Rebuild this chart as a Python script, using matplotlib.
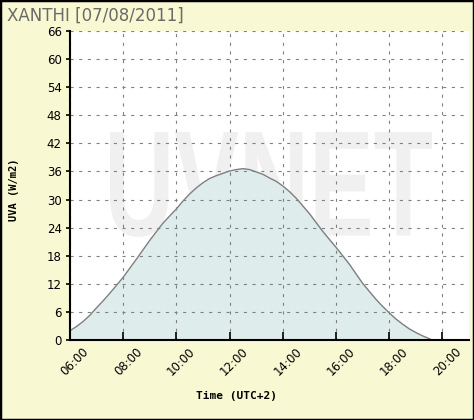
import matplotlib
matplotlib.use("Agg")
import matplotlib.pyplot as plt
import matplotlib.transforms as mtransforms
from matplotlib.textpath import TextPath
from matplotlib.patches import PathPatch, Rectangle
from matplotlib.font_manager import FontProperties

# Data (hours in UTC+2, UVA W/m2)
hours = [6.0, 6.25, 6.5, 6.75, 7.0, 7.25, 7.5, 7.75, 8.0, 8.5, 9.0, 9.5, 10.0, 10.25,
         10.5, 10.75, 11.0, 11.25, 11.5, 11.75, 12.0, 12.25, 12.5, 12.75, 13.0, 13.25,
         13.5, 13.75, 14.0, 14.25, 14.5, 15.0, 15.5, 16.0, 16.5, 17.0, 17.5, 17.75,
         18.0, 18.25, 18.5, 18.75, 19.0, 19.25, 19.5, 19.6]
uva = [2.0, 2.9, 4.0, 5.3, 6.9, 8.4, 10.0, 11.7, 13.4, 17.3, 21.3, 25.0, 28.0, 29.7,
       31.2, 32.5, 33.6, 34.5, 35.1, 35.6, 36.1, 36.4, 36.6, 36.4, 35.9, 35.4,
       34.6, 33.9, 32.9, 31.7, 30.3, 27.0, 23.2, 19.8, 16.2, 12.1, 8.7, 7.2,
       5.8, 4.5, 3.4, 2.4, 1.6, 0.9, 0.3, 0.0]
xticks = [6, 8, 10, 12, 14, 16, 18, 20]
xticklabels = ["06:00", "08:00", "10:00", "12:00", "14:00", "16:00", "18:00", "20:00"]
yticks = list(range(0, 67, 6))
title = "XANTHI [07/08/2011]"

W, H = 474, 420
fig = plt.figure(figsize=(W / 100, H / 100), dpi=100, facecolor="#f8f8d2")
ax = fig.add_axes([70 / W, (H - 340) / H, (469 - 70) / W, (340 - 31) / H])
ax.set_facecolor("white")

# watermark
fp = FontProperties(family="Liberation Sans", weight="bold")
tp = TextPath((0, 0), "UVNET", size=100, prop=fp)
ext = tp.get_extents()
bx0, bx1 = (110 - 70) / 399, (432 - 70) / 399
by0, by1 = (340 - 237) / 309, (340 - 132) / 309
tr = (mtransforms.Affine2D()
      .translate(-ext.x0, -ext.y0)
      .scale((bx1 - bx0) / ext.width, (by1 - by0) / ext.height)
      .translate(bx0, by0))
ax.add_patch(PathPatch(tp, transform=tr + ax.transAxes, facecolor="#f0f0f0",
                       edgecolor="none", zorder=0.5))

ax.fill_between(hours, uva, 0, color="#deeceb", zorder=1)
ax.plot(hours, uva, color="#808080", lw=1.0, zorder=3)

ax.set_xlim(6, 21)
ax.set_ylim(0, 66)
ax.set_xticks(xticks)
ax.set_xticklabels(xticklabels)
ax.set_yticks(yticks)

ax.grid(True, color="#808080", lw=0.8, linestyle=(0, (2.8, 5.0)), zorder=2)
ax.set_axisbelow(False)
for s in ["top", "right"]:
    ax.spines[s].set_visible(False)
for s in ["left", "bottom"]:
    ax.spines[s].set_linewidth(1.5)
    ax.spines[s].set_zorder(4)

ax.tick_params(axis="x", direction="in", length=6, width=1.2, pad=3.5,
               labelsize=8.5, colors="black")
ax.tick_params(axis="y", direction="out", length=3, width=1.2, pad=3,
               labelsize=8.5, colors="black")
off = mtransforms.ScaledTranslation(5 / 100, 0, fig.dpi_scale_trans)
for lab in ax.get_xticklabels():
    lab.set_rotation(45)
    lab.set_ha("center")
    lab.set_va("top")
    lab.set_transform(lab.get_transform() + off)

fig.text(237 / W, 1 - 396 / H, "Time (UTC+2)", ha="center", va="center",
         family="DejaVu Sans Mono", weight="bold", fontsize=8)
fig.text(14 / W, 1 - 190 / H, "UVA (W/m2)", ha="center", va="center", rotation=90,
         family="DejaVu Sans Mono", weight="bold", fontsize=7.5)
fig.text(7 / W, 1 - 16 / H, title, ha="left", va="center", color="#6a6a6a",
         family="DejaVu Sans", fontsize=12)

fig.add_artist(Rectangle((0, 0), 1, 1, transform=fig.transFigure, fill=False,
                         edgecolor="black", lw=2.5))

fig.savefig("out.png", dpi=100, facecolor=fig.get_facecolor())
